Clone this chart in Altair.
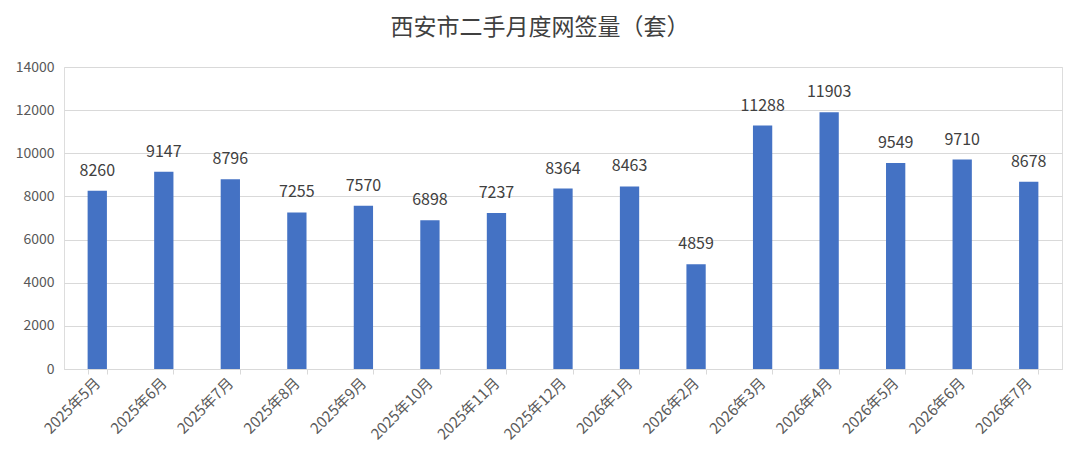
import altair as alt
import pandas as pd

months = ["2025年5月", "2025年6月", "2025年7月", "2025年8月", "2025年9月", "2025年10月",
          "2025年11月", "2025年12月", "2026年1月", "2026年2月", "2026年3月", "2026年4月",
          "2026年5月", "2026年6月", "2026年7月"]
values = [8260, 9147, 8796, 7255, 7570, 6898, 7237, 8364, 8463, 4859, 11288, 11903, 9549, 9710, 8678]

df = pd.DataFrame({"month": months, "value": values})

font = "Noto Sans CJK SC"

base = alt.Chart(df).encode(
    x=alt.X("month:N", sort=months, title=None,
            scale=alt.Scale(paddingInner=0.71, paddingOuter=0.355),
            axis=alt.Axis(labelAngle=-45, labelAlign="right", labelBaseline="middle",
                          labelFontSize=15, labelColor="#595959", labelFont=font,
                          domainColor="#D9D9D9", tickColor="#D9D9D9", tickBand="extent",
                          tickSize=5, labelPadding=6, grid=False)),
    y=alt.Y("value:Q", title=None,
            scale=alt.Scale(domain=[0, 14000]),
            axis=alt.Axis(values=list(range(0, 14001, 2000)), labelFontSize=14,
                          labelColor="#595959", labelFont=font, domain=False, ticks=False,
                          gridColor="#D9D9D9", labelPadding=10, format="d")),
)

bars = base.mark_bar(color="#4472C4")
labels = base.mark_text(dy=-20, fontSize=16, color="#404040", font=font).encode(text="value:Q")

chart = (bars + labels).properties(
    width=998, height=302,
    title=alt.TitleParams("西安市二手月度网签量（套）", fontSize=23, font=font, fontWeight="normal",
                          color="#404040", anchor="middle", dx=-23, offset=20),
    autosize=alt.AutoSizeParams(type="none"),
    padding={"left": 56, "top": 59, "right": 10, "bottom": 90},
).configure_view(stroke=None).configure(background="white")

chart.save("out.html", embed_options={"renderer": "svg", "actions": False})
